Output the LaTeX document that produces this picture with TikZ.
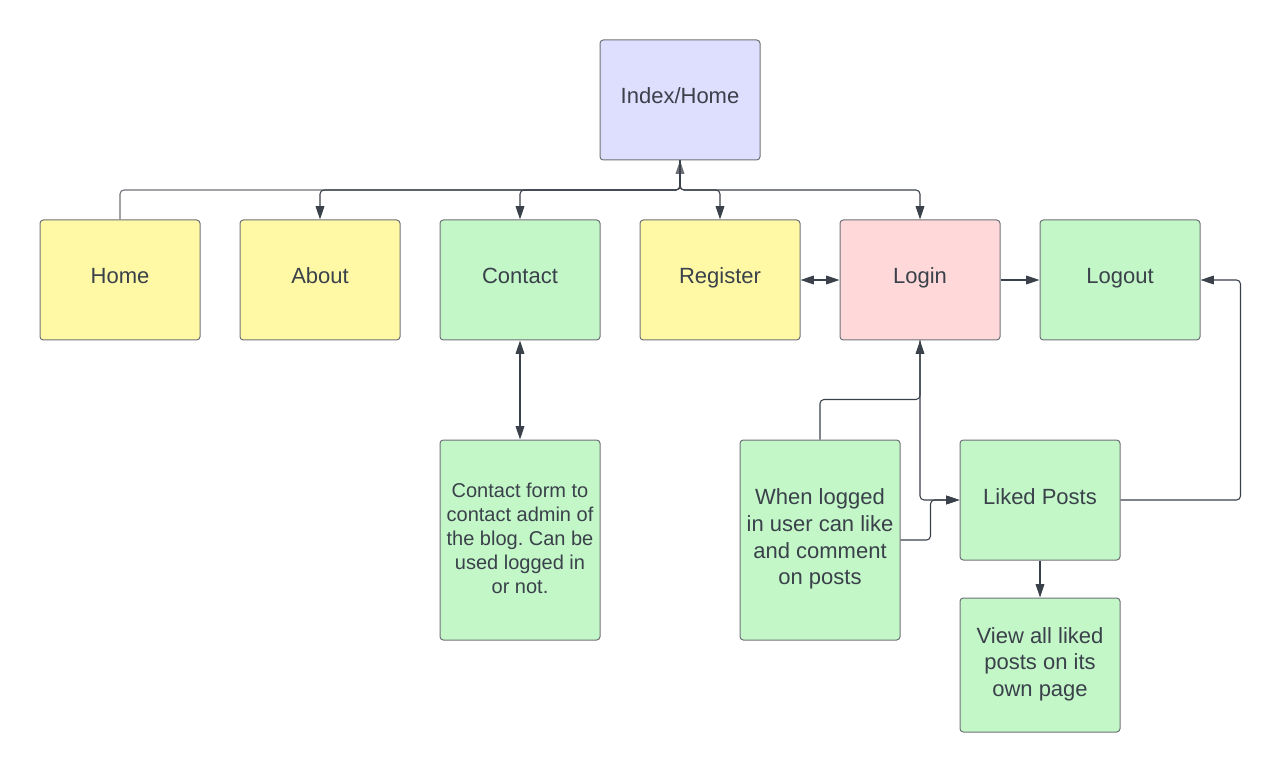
\documentclass[tikz,border=0pt]{standalone}
\usepackage{fontspec}
\setmainfont{Liberation Sans}
\frenchspacing
\usetikzlibrary{arrows.meta,calc}
\definecolor{txt}{HTML}{3A414A}
\definecolor{bord}{HTML}{6E7176}
\definecolor{lav}{HTML}{DEDEFF}
\definecolor{yel}{HTML}{FFF9A6}
\definecolor{grn}{HTML}{C3F7C8}
\definecolor{pnk}{HTML}{FFD9D9}
\definecolor{conn}{HTML}{3A414A}
\definecolor{connl}{HTML}{6E7176}
\begin{document}
\begin{tikzpicture}[x=0.75pt,y=-0.75pt,
  box/.style={draw=bord,line width=0.75pt,rounded corners=2.5pt,minimum width=120pt,minimum height=90pt,inner sep=0pt,align=center,text=txt,font=\fontsize{16.5}{20}\selectfont},
  one/.style={text height=11pt,text depth=5pt},
  small/.style={font=\fontsize{15}{18}\selectfont},
  wire/.style={draw=conn,line width=0.8pt,rounded corners=3pt},
  wirel/.style={draw=connl,line width=0.8pt,rounded corners=3pt},
  tip/.style={-{Triangle[length=10pt,width=6.5pt]}},
  tips/.style={{Triangle[length=10pt,width=6.5pt]}-{Triangle[length=10pt,width=6.5pt]}}
]
\useasboundingbox (0,0) rectangle (1281,773);
\node[box,one,fill=lav] (index) at (680,100) {Index/Home};
\node[box,one,fill=yel] (home) at (120,280) {Home};
\node[box,one,fill=yel] (about) at (320,280) {About};
\node[box,one,fill=grn] (contact) at (520,280) {Contact};
\node[box,one,fill=yel] (register) at (720,280) {Register};
\node[box,one,fill=pnk] (login) at (920,280) {Login};
\node[box,one,fill=grn] (logout) at (1120,280) {Logout};
\node[box,fill=grn,minimum height=150pt,small] (form) at (520,540) {\raisebox{0pt}{}Contact form to\\contact admin of\\the blog. Can be\\used logged in\\or not.\vspace*{3pt}};
\node[box,fill=grn,minimum height=150pt] (when) at (820,540) {When logged\\in user can like\\and comment\\on posts\vspace*{1.5pt}};
\node[box,one,fill=grn] (liked) at (1040,500) {Liked Posts};
\node[box,fill=grn,minimum height=100.5pt] (view) at (1040,665) {View all liked\\posts on its\\own page\vspace*{1.5pt}};
\coordinate (j) at (680,190);
\draw[wirel,tip] (home.north) |- (j) -- (index.south);
\draw[wire,tip] (index.south) -- (j) -| (about.north);
\draw[wire,tip] (index.south) -- (j) -| (contact.north);
\draw[wire,tip] (index.south) -- (j) -| (register.north);
\draw[wire,tip] (index.south) -- (j) -| (login.north);
\draw[wire,tips] (register.east) -- (login.west);
\draw[wire,tip] (login.east) -- (logout.west);
\draw[wire,tips] (contact.south) -- (form.north);
\draw[wire,tip] (when.north) -- ++(0,-40) -| (login.south);
\draw[wire,tip] (login.south) |- (liked.west);
\draw[wire,tip] (when.east) -- ++(30,0) |- (liked.west);
\draw[wire,tip] (liked.east) -- ++(120,0) |- (logout.east);
\draw[wire,tip] (liked.south) -- (view.north);
\end{tikzpicture}
\end{document}
